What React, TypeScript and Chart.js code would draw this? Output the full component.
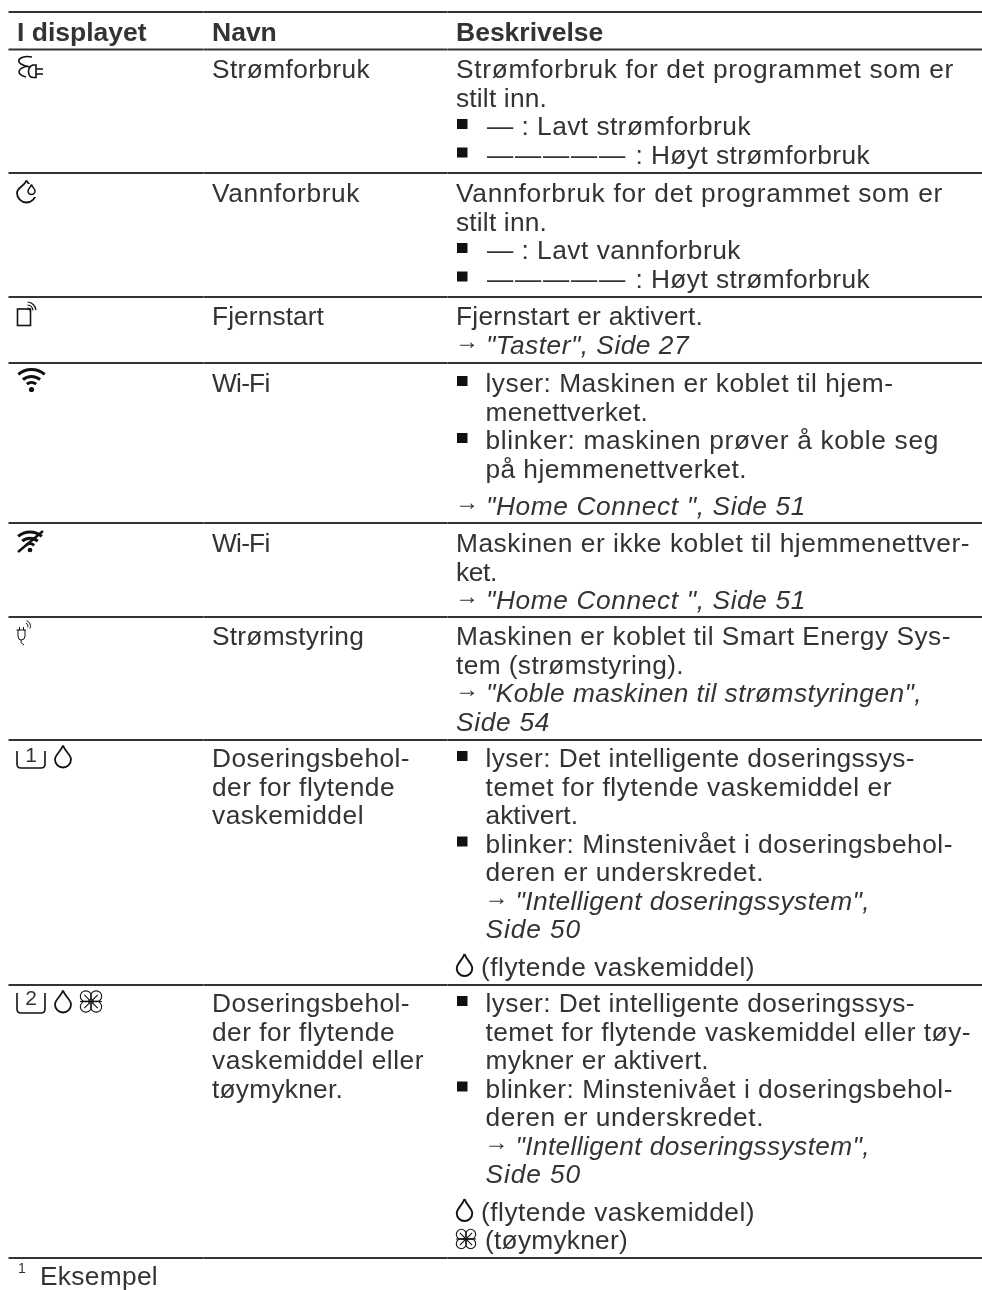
import React, { useEffect, useRef } from "react";
import { Chart, registerables } from "chart.js";

Chart.register(...registerables);

// ---- table content ----
const headers = ["I displayet", "Navn", "Beskrivelse"];
const footnoteMark = "1";
const footnote = "Eksempel";
const iconRows = ["plug", "water", "remote", "wifi", "wifioff", "smart", "dose1", "dose2"];
const names = [
  ["Strømforbruk"],
  ["Vannforbruk"],
  ["Fjernstart"],
  ["Wi-Fi"],
  ["Wi-Fi"],
  ["Strømstyring"],
  ["Doseringsbehol-", "der for flytende", "vaskemiddel"],
  ["Doseringsbehol-", "der for flytende", "vaskemiddel eller", "tøymykner."],
];
// markers: * bullet, ~ indented, / link with arrow, # italic, + paragraph gap, @d drop, @f flower
const descriptions = [
  ["Strømforbruk for det programmet som er", "stilt inn.", "*— : Lavt strømforbruk", "*————— : Høyt strømforbruk"],
  ["Vannforbruk for det programmet som er", "stilt inn.", "*— : Lavt vannforbruk", "*————— : Høyt strømforbruk"],
  ["Fjernstart er aktivert.", "/\"Taster\", Side 27"],
  ["*lyser: Maskinen er koblet til hjem-", "~menettverket.", "*blinker: maskinen prøver å koble seg", "~på hjemmenettverket.", "+/\"Home Connect \", Side 51"],
  ["Maskinen er ikke koblet til hjemmenettver-", "ket.", "/\"Home Connect \", Side 51"],
  ["Maskinen er koblet til Smart Energy Sys-", "tem (strømstyring).", "/\"Koble maskinen til strømstyringen\",", "#Side 54"],
  ["*lyser: Det intelligente doseringssys-", "~temet for flytende vaskemiddel er", "~aktivert.", "*blinker: Minstenivået i doseringsbehol-", "~deren er underskredet.", "~/\"Intelligent doseringssystem\",", "~#Side 50", "+@d(flytende vaskemiddel)"],
  ["*lyser: Det intelligente doseringssys-", "~temet for flytende vaskemiddel eller tøy-", "~mykner er aktivert.", "*blinker: Minstenivået i doseringsbehol-", "~deren er underskredet.", "~/\"Intelligent doseringssystem\",", "~#Side 50", "+@d(flytende vaskemiddel)", "@f(tøymykner)"],
];
const ruleRows = [12, 49.5, 173, 297, 363, 523, 617, 740, 985, 1258];
const firstBaselines = [78, 202, 325, 392, 552, 645, 767, 1012];

// ---- layout ----
const nameEnds = [[370], [360], [324], [269.5], [269.5], [364], [410, 395, 364], [410, 395, 424, 343]];
const descEnds = [
  [954, 547, 751, 870],
  [943, 547, 741, 870],
  [703, 689],
  [893.5, 648, 939, 747, 806],
  [970, 497, 806],
  [951, 684, 922, 550],
  [915, 892, 578, 953, 764, 870, 581, 755],
  [915, 971, 709, 953, 764, 870, 581, 755, 628],
];
const W = 982, H = 1290;
const INK = "#333333";
const COL = [17, 212, 456];
const INDENT = 29.5;
const STEP = 28.5;
const GAP = 9;
const FONT = '"Liberation Sans", Arial, sans-serif';
const SIZE = 26.3;
const RULE_SPANS = [[8.5, 203], [203.25, 447], [447.25, 982]];

function strokeDrop(ctx: CanvasRenderingContext2D, cx: number, bottom: number, w: number, h: number) {
  const r = w / 2;
  const cy = bottom - r;
  const top = bottom - h;
  ctx.beginPath();
  ctx.moveTo(cx, top);
  ctx.bezierCurveTo(cx + r * 0.3, top + h * 0.3, cx + r, cy - r * 0.6, cx + r, cy);
  ctx.arc(cx, cy, r, 0, Math.PI);
  ctx.bezierCurveTo(cx - r, cy - r * 0.6, cx - r * 0.3, top + h * 0.3, cx, top);
  ctx.stroke();
}

function strokeFlower(ctx: CanvasRenderingContext2D, cx: number, cy: number, R: number) {
  const d = R * 0.47;
  const r = R * 0.5;
  [[-1, -1], [1, -1], [1, 1], [-1, 1]].forEach(([sx, sy]) => {
    ctx.beginPath();
    ctx.arc(cx + sx * d, cy + sy * d, r, 0, Math.PI * 2);
    ctx.stroke();
  });
  ctx.beginPath();
  ctx.moveTo(cx - R, cy);
  ctx.lineTo(cx + R, cy);
  ctx.moveTo(cx - d * 1.3, cy - d * 1.3);
  ctx.lineTo(cx + d * 1.3, cy + d * 1.3);
  ctx.moveTo(cx + d * 1.3, cy - d * 1.3);
  ctx.lineTo(cx - d * 1.3, cy + d * 1.3);
  ctx.stroke();
}

function strokeTub(ctx: CanvasRenderingContext2D, x: number, top: number, bottom: number, digit: string, digitBase: number) {
  ctx.beginPath();
  ctx.moveTo(x, top);
  ctx.lineTo(x, bottom - 4);
  ctx.quadraticCurveTo(x, bottom, x + 4, bottom);
  ctx.lineTo(x + 24, bottom);
  ctx.quadraticCurveTo(x + 28, bottom, x + 28, bottom - 4);
  ctx.lineTo(x + 28, top);
  ctx.stroke();
  ctx.font = `21px ${FONT}`;
  ctx.textAlign = "center";
  ctx.fillStyle = INK;
  ctx.fillText(digit, x + 14, digitBase);
  ctx.textAlign = "left";
}

function wifiArcs(ctx: CanvasRenderingContext2D, cx: number, cy: number, k: number) {
  const a = 0.72;
  [7, 13, 20].forEach((r) => {
    ctx.beginPath();
    ctx.arc(cx, cy, r * k, -Math.PI / 2 - a, -Math.PI / 2 + a);
    ctx.stroke();
  });
  ctx.beginPath();
  ctx.arc(cx, cy, 2.6 * k, 0, Math.PI * 2);
  ctx.fill();
}

const iconDrawers: Record<string, (ctx: CanvasRenderingContext2D, b: number) => void> = {
  plug(ctx, b) {
    ctx.beginPath();
    ctx.moveTo(32, b - 21);
    ctx.bezierCurveTo(22, b - 23, 15, b - 18, 21, b - 14);
    ctx.bezierCurveTo(24, b - 12, 27, b - 11.5, 30, b - 11);
    ctx.moveTo(28, b - 12);
    ctx.bezierCurveTo(18, b - 10, 15, b - 4, 26, b - 1);
    ctx.stroke();
    ctx.beginPath();
    ctx.moveTo(36, b - 13);
    ctx.lineTo(33, b - 13);
    ctx.bezierCurveTo(27, b - 11, 27, b - 1.5, 33, b - 0.5);
    ctx.lineTo(36, b - 0.5);
    ctx.closePath();
    ctx.moveTo(36, b - 9);
    ctx.lineTo(43, b - 9);
    ctx.moveTo(36, b - 4);
    ctx.lineTo(43, b - 4);
    ctx.stroke();
  },
  water(ctx, b) {
    ctx.lineWidth = 1.8;
    strokeDrop(ctx, 26.5, b + 0.5, 19, 22);
    ctx.save();
    ctx.fillStyle = "#fff";
    ctx.fillRect(27, b - 18, 11, 13);
    ctx.restore();
    ctx.lineWidth = 1.5;
    strokeDrop(ctx, 31.5, b - 7.5, 7, 10);
  },
  remote(ctx, b) {
    ctx.strokeRect(17.5, b - 16, 13, 16.5);
    ctx.lineWidth = 1.2;
    [3, 6, 9].forEach((r) => {
      ctx.beginPath();
      ctx.arc(27, b - 14, r, -1.5, -0.1);
      ctx.stroke();
    });
  },
  wifi(ctx, b) {
    ctx.lineWidth = 3;
    wifiArcs(ctx, 31.5, b - 2.5, 1);
  },
  wifioff(ctx, b) {
    ctx.lineWidth = 3;
    wifiArcs(ctx, 30, b - 2, 0.9);
    ctx.lineWidth = 2.4;
    ctx.beginPath();
    ctx.moveTo(18, b);
    ctx.lineTo(43, b - 21);
    ctx.stroke();
  },
  smart(ctx, b) {
    ctx.lineWidth = 1;
    ctx.beginPath();
    ctx.moveTo(16.5, b - 15);
    ctx.lineTo(26, b - 15);
    ctx.moveTo(18, b - 15);
    ctx.lineTo(18, b - 9);
    ctx.quadraticCurveTo(18, b - 5, 21, b - 5);
    ctx.quadraticCurveTo(25, b - 5, 25, b - 9);
    ctx.lineTo(25, b - 15);
    ctx.moveTo(21, b - 5);
    ctx.quadraticCurveTo(20, b - 2, 24, b);
    ctx.moveTo(19.5, b - 18);
    ctx.lineTo(19.5, b - 15);
    ctx.moveTo(23.5, b - 18);
    ctx.lineTo(23.5, b - 15);
    ctx.stroke();
    [3, 5.5].forEach((r) => {
      ctx.beginPath();
      ctx.arc(25, b - 19, r, -1.3, 0.5);
      ctx.stroke();
    });
  },
  dose1(ctx, b) {
    strokeTub(ctx, 17, b - 16, b + 1, "1", b - 5);
    ctx.lineWidth = 1.8;
    strokeDrop(ctx, 63, b + 0.5, 16, 22);
  },
  dose2(ctx, b) {
    strokeTub(ctx, 17, b - 19, b + 1, "2", b - 7);
    ctx.lineWidth = 1.8;
    strokeDrop(ctx, 63, b + 0.5, 16, 22);
    ctx.lineWidth = 1.1;
    strokeFlower(ctx, 91, b - 10.5, 11);
  },
};

const tableTextPlugin = {
  id: "tableText",
  afterDatasetsDraw(chart: Chart) {
    const ctx = chart.ctx as any;
    const xs = chart.scales.x;
    const ys = chart.scales.y;
    const put = (text: string, x: number, y: number) => ctx.fillText(text, xs.getPixelForValue(x), ys.getPixelForValue(y));
    // draws one line so that it runs from x to the line end
    const fit = (text: string, x: number, y: number, end: number) => {
      ctx.letterSpacing = "0px";
      const w = ctx.measureText(text).width;
      ctx.letterSpacing = `${(end - x - w) / Math.max(1, text.length)}px`;
      put(text, x, y);
      ctx.letterSpacing = "0px";
    };
    ctx.save();
    ctx.fillStyle = INK;
    ctx.strokeStyle = "#111";
    ctx.textBaseline = "alphabetic";
    ctx.textAlign = "left";

    ctx.font = `bold ${SIZE + 0.2}px ${FONT}`;
    headers.forEach((h, i) => put(h, COL[i], 41));

    ctx.font = `${SIZE}px ${FONT}`;
    names.forEach((lines, r) => {
      lines.forEach((t, i) => fit(t, COL[1], firstBaselines[r] + i * STEP, nameEnds[r][i]));
    });

    descriptions.forEach((lines, r) => {
      let gaps = 0;
      lines.forEach((raw, i) => {
        let t = raw;
        let x = COL[2];
        const end = descEnds[r][i];
        if (t.startsWith("+")) { gaps++; t = t.slice(1); }
        const y = firstBaselines[r] + i * STEP + gaps * GAP;
        ctx.font = `${SIZE}px ${FONT}`;
        if (t.startsWith("*")) {
          ctx.fillStyle = "#111";
          ctx.fillRect(xs.getPixelForValue(x + 1), ys.getPixelForValue(y - 16), 10.5, 10);
          ctx.fillStyle = INK;
          t = t.slice(1);
          x += INDENT;
        }
        if (t.startsWith("~")) { t = t.slice(1); x += INDENT; }
        if (t.startsWith("@d")) {
          ctx.lineWidth = 1.9;
          strokeDrop(ctx, x + 8.5, y + 0.5, 15.5, 22);
          t = t.slice(2);
          x += 25;
        } else if (t.startsWith("@f")) {
          ctx.lineWidth = 1.1;
          strokeFlower(ctx, x + 10, y - 10, 10);
          t = t.slice(2);
          x += 29;
        }
        const dashes = t.match(/^—+/);
        if (dashes) {
          const n = dashes[0].length;
          const run = n > 1 ? 140 : 26;
          fit(dashes[0], x + 1.5, y, x + 1.5 + run);
          fit(t.slice(n + 1), x + 1.5 + run + 8.5, y, end);
        } else if (t.startsWith("/")) {
          ctx.font = `24px ${FONT}`;
          put("→", x - 1, y - 5);
          ctx.font = `italic ${SIZE}px ${FONT}`;
          fit(t.slice(1), x + 30, y, end);
        } else if (t.startsWith("#")) {
          ctx.font = `italic ${SIZE}px ${FONT}`;
          fit(t.slice(1), x, y, end);
        } else {
          fit(t, x, y, end);
        }
      });
    });

    iconRows.forEach((name, r) => {
      ctx.save();
      ctx.lineWidth = 1.6;
      ctx.fillStyle = "#111";
      iconDrawers[name](ctx, firstBaselines[r]);
      ctx.restore();
    });

    ctx.font = `${SIZE}px ${FONT}`;
    fit(footnote, 40, 1285, 158);
    ctx.font = `14px ${FONT}`;
    put(footnoteMark, 18, 1273);
    ctx.restore();
  },
};

export default function App() {
  const ref = useRef<HTMLCanvasElement>(null);
  useEffect(() => {
    document.body.style.margin = "0";
    const chart = new Chart(ref.current!, {
      type: "scatter",
      data: {
        datasets: ruleRows.flatMap((y) =>
          RULE_SPANS.map(([a, b]) => ({
            data: [{ x: a, y }, { x: b, y }],
            showLine: true,
            pointRadius: 0,
            borderColor: "#333333",
            borderWidth: 2,
          }))
        ),
      },
      options: {
        animation: false,
        responsive: false,
        events: [],
        layout: { padding: 0 },
        plugins: { legend: { display: false }, tooltip: { enabled: false } },
        scales: {
          x: { type: "linear", display: false, min: 0, max: W },
          y: { type: "linear", display: false, min: 0, max: H, reverse: true },
        },
      },
      plugins: [tableTextPlugin],
    });
    return () => chart.destroy();
  }, []);
  return (
    <div style={{ width: W, height: H, background: "#fff" }}>
      <canvas ref={ref} width={W} height={H} style={{ display: "block" }} />
    </div>
  );
}
